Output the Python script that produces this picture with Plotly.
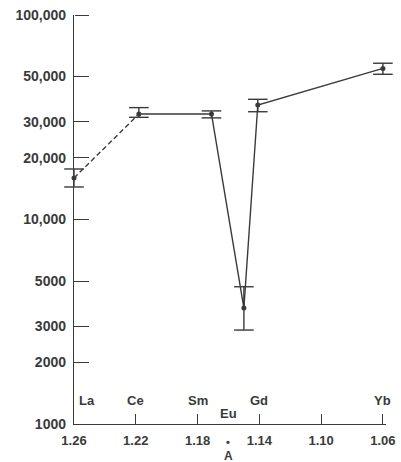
import plotly.graph_objects as go

# Data (ionic radius vs. concentration)
elements = ["La", "Ce", "Sm", "Eu", "Gd", "Yb"]
radius = [1.26, 1.218, 1.171, 1.150, 1.141, 1.06]
value = [15960, 32800, 32800, 3690, 36300, 54800]
upper = [17660, 35250, 33960, 4690, 38700, 58100]
lower = [14420, 31600, 31400, 2880, 33650, 51300]

label_elements = ["La", "Ce", "Sm", "Eu", "Gd", "Yb"]
label_radius = [1.26, 1.22, 1.18, 1.16, 1.14, 1.06]

x_ticks = [1.26, 1.22, 1.18, 1.14, 1.10, 1.06]
x_ticktext = ["1.26", "1.22", "1.18", "1.14", "1.10", "1.06"]
y_ticks = [1000, 2000, 3000, 5000, 10000, 20000, 30000, 50000, 100000]
y_ticktext = ["1000", "2000", "3000", "5000", "10,000", "20,000", "30,000", "50,000", "100,000"]

ink = "#3a3a3a"
font = dict(family="Liberation Sans", size=13, color=ink, weight="bold")

err_plus = [u - v for u, v in zip(upper, value)]
err_minus = [v - l for v, l in zip(value, lower)]

fig = go.Figure()
# dashed segment La -> Ce
fig.add_trace(go.Scatter(x=radius[:2], y=value[:2], mode="lines",
                         line=dict(color=ink, width=1.4, dash="5px,3px"),
                         showlegend=False, hoverinfo="skip"))
# solid line Ce -> Yb
fig.add_trace(go.Scatter(x=radius[1:], y=value[1:], mode="lines",
                         line=dict(color=ink, width=1.4),
                         showlegend=False, hoverinfo="skip"))
# points with error-bar stems
fig.add_trace(go.Scatter(x=radius, y=value, mode="markers",
                         marker=dict(color=ink, size=5),
                         error_y=dict(type="data", symmetric=False,
                                      array=err_plus, arrayminus=err_minus,
                                      color=ink, thickness=1.4, width=0),
                         cliponaxis=False, showlegend=False, text=elements))
# error-bar caps (markers, so they are not clipped at the plot edges)
fig.add_trace(go.Scatter(x=radius + radius, y=upper + lower, mode="markers",
                         yaxis="y2",
                         marker=dict(symbol="line-ew", size=14, color=ink,
                                     line=dict(color=ink, width=1.4)),
                         cliponaxis=False, showlegend=False, hoverinfo="skip"))

annotations = []
for name, r in zip(label_elements, label_radius):
    if name == "Eu":
        ys, xs = 11, 0
    elif name == "La":
        ys, xs = 24, 13
    else:
        ys, xs = 24, 0
    annotations.append(dict(x=r, y=0, xref="x", yref="paper", text=name,
                            showarrow=False, yshift=ys, xshift=xs,
                            yanchor="middle", font=font))
annotations.append(dict(x=1.16, y=0, xref="x", yref="paper", text="•",
                        showarrow=False, yshift=-18, yanchor="middle",
                        font=dict(family="Liberation Sans", size=11, color=ink)))
annotations.append(dict(x=1.16, y=0, xref="x", yref="paper", text="A",
                        showarrow=False, yshift=-32, yanchor="middle",
                        font=dict(family="Liberation Sans", size=12, color=ink,
                                  weight="bold")))

fig.update_layout(
    width=401, height=462,
    margin=dict(l=74, r=15, t=15, b=38, autoexpand=False),
    paper_bgcolor="white", plot_bgcolor="white",
    font=font,
    annotations=annotations,
    xaxis=dict(range=[1.26, 1.058], tickvals=x_ticks, ticktext=x_ticktext,
               ticks="inside", ticklen=10, tickwidth=1.4, tickcolor=ink,
               showline=True, linecolor=ink, linewidth=1.4,
               showgrid=False, zeroline=False, ticklabelstandoff=4),
    yaxis=dict(type="log", range=[3, 5], tickvals=y_ticks, ticktext=y_ticktext,
               ticks="inside", ticklen=14, tickwidth=1.4, tickcolor=ink,
               tickfont=dict(family="Liberation Sans", size=14, color=ink,
                             weight="bold"),
               showline=True, linecolor=ink, linewidth=1.4,
               showgrid=False, zeroline=False, ticklabelstandoff=4),
    # tick marks pointing into the plot, drawn from the left edge
    yaxis2=dict(type="log", range=[3, 5], tickvals=y_ticks, overlaying="y",
                side="right", anchor="free", position=0,
                ticks="outside", ticklen=14, tickwidth=1.4, tickcolor=ink,
                showticklabels=False, showline=False, showgrid=False,
                zeroline=False),
)

fig.write_html("out.html", config={"displayModeBar": False},
               post_script="document.body.style.margin='0';"
                           "document.body.style.overflow='hidden';")
